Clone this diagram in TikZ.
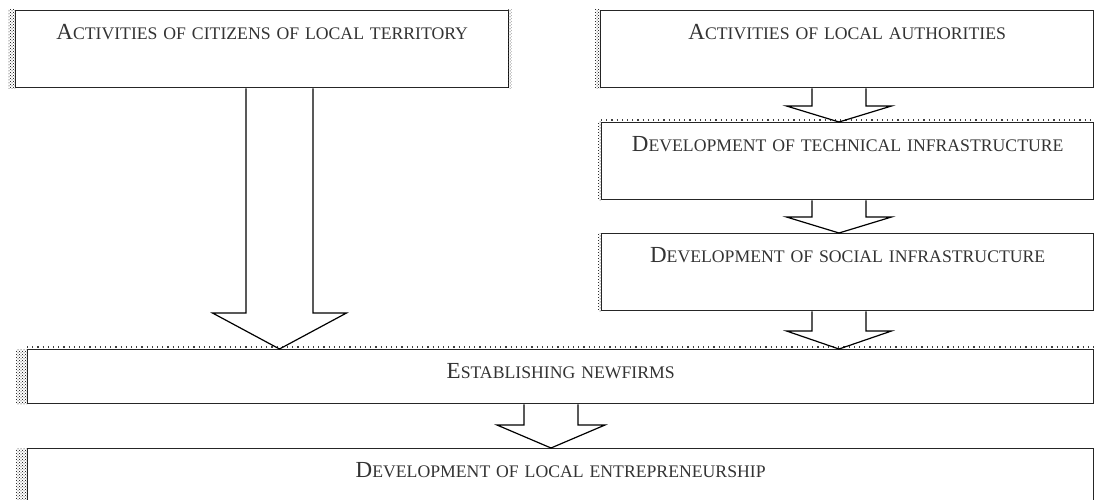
\documentclass[tikz,border=0pt]{standalone}
\usepackage{fontspec}
\setmainfont{Liberation Serif}
\usetikzlibrary{calc,patterns}

\newcommand{\bigini}[1]{{\fontsize{23}{25}\selectfont #1}}
% block arrow: from, to, centre x, half shaft, half head, head length
\newcommand{\blockarrow}[6]{%
\draw[flowarrow] let \p1=(#1.south), \p2=(#2.north) in
  ({#3pt-#4pt},\y1) -- ({#3pt-#4pt},{\y2+#6pt}) -- ({#3pt-#5pt},{\y2+#6pt}) -- (#3pt,\y2)
  -- ({#3pt+#5pt},{\y2+#6pt}) -- ({#3pt+#4pt},{\y2+#6pt}) -- ({#3pt+#4pt},\y1);}

\begin{document}
\begin{tikzpicture}[x=1pt,y=-1pt,line join=miter,
  flowbox/.style={draw=black!85,line width=1.4pt,anchor=north west,inner sep=0pt,
    align=center,text=black!80,font=\fontsize{17.7}{19}\selectfont,text height=29pt},
  flowarrow/.style={draw=black,line width=1.2pt},
  shade/.style={pattern=crosshatch dots,pattern color=black},
  ticks/.style={draw=black!75,line width=1.6pt,dash pattern=on 1.2pt off 4pt}]
\useasboundingbox (0,0) rectangle (1094,500);
\clip (0,0) rectangle (1094,500);
%\draw[help lines] (0,0) grid[step=50pt] (1094,500);

\node[flowbox,text width=493pt,text depth=48pt] (cit) at (15,10) {\bigini{A}CTIVITIES OF CITIZENS OF LOCAL TERRITORY};
\node[flowbox,text width=493pt,text depth=48pt] (auth) at (600,10) {\bigini{A}CTIVITIES OF LOCAL AUTHORITIES};
\node[flowbox,text width=492pt,text depth=48pt] (tech) at (601,122) {\bigini{D}EVELOPMENT OF TECHNICAL INFRASTRUCTURE};
\node[flowbox,text width=492pt,text depth=48pt] (soc) at (601,233) {\bigini{D}EVELOPMENT OF SOCIAL INFRASTRUCTURE};
\node[flowbox,text width=1066pt,text depth=25pt] (firms) at (27,349) {\bigini{E}STABLISHING NEWFIRMS};
\node[flowbox,text width=1066pt,text depth=70pt] (entre) at (27,448) {\bigini{D}EVELOPMENT OF LOCAL ENTREPRENEURSHIP};

% shadows
\fill[shade] ([xshift=-7pt]cit.north west) rectangle (cit.south west);
\fill[shade] ([xshift=-1pt]cit.north east) rectangle ([xshift=2pt]cit.south east);
\fill[shade] ([xshift=-5pt]auth.north west) rectangle (auth.south west);
\fill[shade] ([xshift=-3pt]tech.north west) rectangle (tech.south west);
\fill[shade] ([xshift=-3pt]soc.north west) rectangle (soc.south west);
\fill[shade] ([xshift=-11pt]firms.north west) rectangle (firms.south west);
\fill[shade] ([xshift=-11pt]entre.north west) rectangle (entre.south west);
\draw[ticks] ([yshift=2pt]tech.north west) -- ([yshift=2pt]tech.north east);
\draw[ticks] ([yshift=2pt]firms.north west) -- ([yshift=2pt]firms.north east);

% arrows
\blockarrow{cit}{firms}{279.5}{33.5}{67}{36}
\blockarrow{auth}{tech}{839}{27}{52.5}{16}
\blockarrow{tech}{soc}{839}{27}{52.5}{16}
\blockarrow{soc}{firms}{839}{27}{52.5}{18}
\blockarrow{firms}{entre}{551}{27}{54}{23}
\end{tikzpicture}
\end{document}
